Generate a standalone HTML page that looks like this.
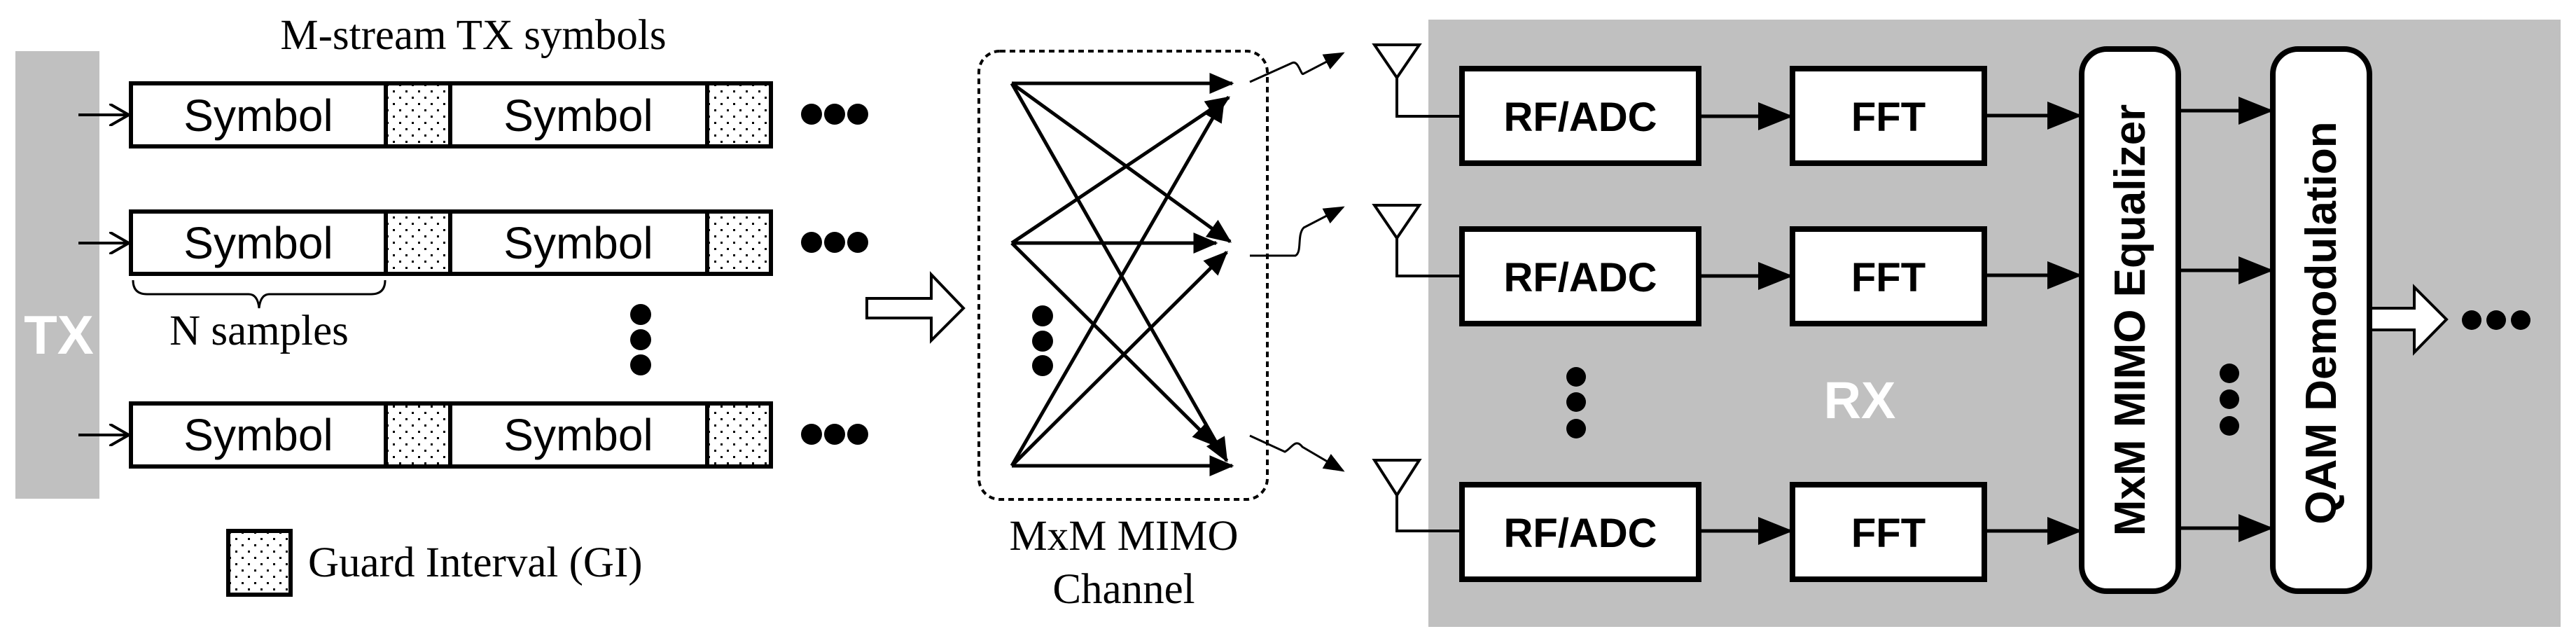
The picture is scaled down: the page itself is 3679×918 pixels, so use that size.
<!DOCTYPE html>
<html><head><meta charset="utf-8"><style>html,body{margin:0;padding:0;background:#fff}svg{display:block}</style></head>
<body>
<svg width="3679" height="918" viewBox="0 0 3679 918" xmlns="http://www.w3.org/2000/svg">
<defs>
<pattern id="dots" width="18" height="18" patternUnits="userSpaceOnUse">
<rect width="18" height="18" fill="#fff"/><rect x="3" y="3" width="3" height="3" fill="#000"/><rect x="12" y="12" width="3" height="3" fill="#000"/>
</pattern>
<marker id="oa" markerWidth="8" markerHeight="8" refX="7" refY="4" orient="auto" markerUnits="strokeWidth"><path d="M0,0 L7,4 L0,8" fill="none" stroke="#000" stroke-width="1"/></marker>
<marker id="sm" markerWidth="10" markerHeight="8" refX="9" refY="4" orient="auto" markerUnits="strokeWidth"><path d="M0,0 L10,4 L0,8 z" fill="#000"/></marker>
<marker id="ch" markerWidth="7" markerHeight="6" refX="6.5" refY="3" orient="auto" markerUnits="strokeWidth"><path d="M0,0 L7,3 L0,6 z" fill="#000"/></marker>
</defs>
<g font-family="Liberation Serif, serif" font-size="61" fill="#000">
<text x="676" y="70" text-anchor="middle">M-stream TX symbols</text>
<text x="370" y="492" text-anchor="middle">N samples</text>
<text x="440" y="823">Guard Interval (GI)</text>
<text x="1605" y="785" text-anchor="middle">MxM MIMO</text>
<text x="1605" y="861" text-anchor="middle">Channel</text>
</g>
<rect x="22" y="73" width="120" height="639" fill="#c0c0c0"/>
<text x="84" y="505" font-family="Liberation Sans, sans-serif" font-weight="bold" font-size="78" fill="#fff" text-anchor="middle">TX</text>
<g stroke="#000" stroke-width="6" font-family="Liberation Sans, sans-serif" font-size="64">
<g>
<rect x="187" y="119" width="914" height="90" fill="#fff"/>
<rect x="551" y="119" width="92" height="90" fill="url(#dots)"/>
<rect x="1010" y="119" width="91" height="90" fill="url(#dots)"/>
<text x="369" y="187" text-anchor="middle" stroke="none">Symbol</text>
<text x="826" y="187" text-anchor="middle" stroke="none">Symbol</text>
<line x1="112" y1="164" x2="184" y2="164" stroke-width="4" marker-end="url(#oa)"/>
</g>
<g>
<rect x="187" y="302" width="914" height="89" fill="#fff"/>
<rect x="551" y="302" width="92" height="89" fill="url(#dots)"/>
<rect x="1010" y="302" width="91" height="89" fill="url(#dots)"/>
<text x="369" y="369" text-anchor="middle" stroke="none">Symbol</text>
<text x="826" y="369" text-anchor="middle" stroke="none">Symbol</text>
<line x1="112" y1="347" x2="184" y2="347" stroke-width="4" marker-end="url(#oa)"/>
</g>
<g>
<rect x="187" y="576" width="914" height="90" fill="#fff"/>
<rect x="551" y="576" width="92" height="90" fill="url(#dots)"/>
<rect x="1010" y="576" width="91" height="90" fill="url(#dots)"/>
<text x="369" y="643" text-anchor="middle" stroke="none">Symbol</text>
<text x="826" y="643" text-anchor="middle" stroke="none">Symbol</text>
<line x1="112" y1="621" x2="184" y2="621" stroke-width="4" marker-end="url(#oa)"/>
</g>
<rect x="326" y="758" width="89" height="91" fill="url(#dots)"/>
</g>
<path d="M190,400 Q190,420 210,420 L355,420 Q368,420 370,440 Q372,420 385,420 L530,420 Q550,420 550,400" fill="none" stroke="#000" stroke-width="3"/>
<g fill="#000">
<circle cx="1159" cy="163" r="15"/><circle cx="1192" cy="163" r="15"/><circle cx="1225" cy="163" r="15"/>
<circle cx="1159" cy="346" r="15"/><circle cx="1192" cy="346" r="15"/><circle cx="1225" cy="346" r="15"/>
<circle cx="1159" cy="620" r="15"/><circle cx="1192" cy="620" r="15"/><circle cx="1225" cy="620" r="15"/>
<circle cx="915" cy="449" r="15"/><circle cx="915" cy="485" r="15"/><circle cx="915" cy="521" r="15"/>
<circle cx="1489" cy="451" r="15"/><circle cx="1489" cy="487" r="15"/><circle cx="1489" cy="522" r="15"/>
</g>
<path d="M1238,426 L1330,426 L1330,392 L1376,440 L1330,486 L1330,454 L1238,454 Z" fill="#fff" stroke="#000" stroke-width="4"/>
<rect x="1398" y="73" width="412" height="640" rx="30" fill="none" stroke="#000" stroke-width="4" stroke-dasharray="8,6"/>
<g stroke="#000" stroke-width="5" marker-end="url(#ch)">
<line x1="1445" y1="119" x2="1760" y2="119"/>
<line x1="1445" y1="119" x2="1757" y2="345"/>
<line x1="1445" y1="119" x2="1752" y2="658"/>
<line x1="1445" y1="347" x2="1755" y2="139"/>
<line x1="1445" y1="347" x2="1737" y2="347"/>
<line x1="1445" y1="347" x2="1736" y2="636"/>
<line x1="1445" y1="665" x2="1748" y2="141"/>
<line x1="1445" y1="665" x2="1752" y2="360"/>
<line x1="1445" y1="665" x2="1760" y2="665"/>
</g>
<g fill="none" stroke="#000" stroke-width="3">
<path d="M1785,117 L1845,90 C1855,85 1858,110 1862,105 L1918,76" marker-end="url(#sm)"/>
<path d="M1785,365 L1850,365 C1860,360 1852,335 1862,325 L1918,296" marker-end="url(#sm)"/>
<path d="M1785,622 L1835,645 C1845,640 1850,625 1860,638 L1918,672" marker-end="url(#sm)"/>
</g>
<rect x="2040" y="28" width="1617" height="867" fill="#c0c0c0"/>
<text x="2656" y="597" font-family="Liberation Sans, sans-serif" font-weight="bold" font-size="74" fill="#fff" text-anchor="middle">RX</text>
<g stroke="#000" stroke-width="4" fill="none">
<path d="M1963,64 L2027,64 L1995,111 Z M1995,111 L1995,166 L2086,166"/>
<path d="M1963,293 L2027,293 L1995,340 Z M1995,340 L1995,394 L2086,394"/>
<path d="M1963,657 L2027,657 L1995,707 Z M1995,707 L1995,758 L2086,758"/>
</g>
<g font-family="Liberation Sans, sans-serif" font-weight="bold" font-size="58" text-anchor="middle">
<g stroke="#000" stroke-width="8" fill="#fff">
<rect x="2088" y="98" width="338" height="135"/>
<rect x="2088" y="327" width="338" height="135"/>
<rect x="2088" y="692" width="338" height="135"/>
<rect x="2560" y="98" width="274" height="135"/>
<rect x="2560" y="327" width="274" height="135"/>
<rect x="2560" y="692" width="274" height="135"/>
<rect x="2973" y="70" width="138" height="774" rx="36"/>
<rect x="3246" y="70" width="138" height="774" rx="36"/>
</g>
<text x="2257" y="187">RF/ADC</text><text x="2257" y="416">RF/ADC</text><text x="2257" y="781">RF/ADC</text>
<text x="2697" y="187">FFT</text><text x="2697" y="416">FFT</text><text x="2697" y="781">FFT</text>
<text transform="translate(3063,457) rotate(-90)" font-size="62">MxM MIMO Equalizer</text>
<text transform="translate(3336,461) rotate(-90)" font-size="62">QAM Demodulation</text>
</g>
<g stroke="#000" stroke-width="5" marker-end="url(#sm)">
<line x1="2430" y1="166" x2="2556" y2="166"/>
<line x1="2430" y1="394" x2="2556" y2="394"/>
<line x1="2430" y1="758" x2="2556" y2="758"/>
<line x1="2838" y1="165" x2="2969" y2="165"/>
<line x1="2838" y1="393" x2="2969" y2="393"/>
<line x1="2838" y1="758" x2="2969" y2="758"/>
<line x1="3115" y1="158" x2="3242" y2="158"/>
<line x1="3115" y1="386" x2="3242" y2="386"/>
<line x1="3115" y1="754" x2="3242" y2="754"/>
</g>
<g fill="#000">
<circle cx="2251" cy="538" r="14"/><circle cx="2251" cy="574" r="14"/><circle cx="2251" cy="612" r="14"/>
<circle cx="3184" cy="533" r="14"/><circle cx="3184" cy="570" r="14"/><circle cx="3184" cy="608" r="14"/>
<circle cx="3530" cy="457" r="14"/><circle cx="3565" cy="457" r="14"/><circle cx="3600" cy="457" r="14"/>
</g>
<path d="M3386,440 L3448,440 L3448,410 L3494,456 L3448,503 L3448,471 L3386,471 Z" fill="#fff" stroke="#000" stroke-width="4"/>
</svg>
</body></html>
